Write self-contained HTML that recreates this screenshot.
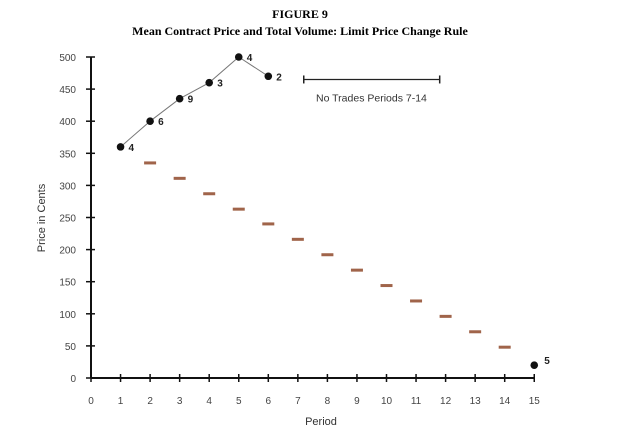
<!DOCTYPE html>
<html><head><meta charset="utf-8"><style>body{margin:0;background:#fff}text{font-family:"Liberation Sans",sans-serif}</style></head>
<body>
<svg id="c" width="620" height="433" xmlns="http://www.w3.org/2000/svg">
<text x="300" y="18" text-anchor="middle" font-family="Liberation Serif" font-weight="bold" font-size="12" style="font-family:'Liberation Serif',serif">FIGURE 9</text>
<text x="300" y="35" text-anchor="middle" font-weight="bold" font-size="12" style="font-family:'Liberation Serif',serif">Mean Contract Price and Total Volume: Limit Price Change Rule</text>
<text transform="translate(45,218) rotate(-90)" text-anchor="middle" font-size="11" fill="#333">Price in Cents</text>
<text x="321" y="425" text-anchor="middle" font-size="11" fill="#333">Period</text>
<g id="g"></g>
</svg>
<script>
const xTicks=[0,1,2,3,4,5,6,7,8,9,10,11,12,13,14,15];
const yTicks=[0,50,100,150,200,250,300,350,400,450,500];
const tradePeriods=[1,2,3,4,5,6];
const tradePrices=[360,400,435,460,500,470];
const tradeVolumes=[4,6,9,3,4,2];
const lastPeriod=[15];const lastPrice=[20];const lastVolume=[5];
const limitPeriods=[2,3,4,5,6,7,8,9,10,11,12,13,14];
const limitPrices=[335,311,287,263,240,216,192,168,144,120,96,72,48];
const noTradeRange=[7.2,11.8];const noTradeLevel=[465];
const X=v=>91+v*29.55, Y=v=>378-v*0.642;
const g=document.getElementById('g'),NS='http://www.w3.org/2000/svg';
function mk(t,a,name,txt){const e=document.createElementNS(NS,t);for(const k in a)e.setAttribute(k,a[k]);


if(txt!==undefined)e.textContent=txt;g.appendChild(e);return e;}
mk('line',{x1:X(0),y1:Y(0),x2:X(15),y2:Y(0),stroke:'#111','stroke-width':2},'x-axis');
mk('line',{x1:X(0),y1:Y(0),x2:X(0),y2:Y(500),stroke:'#111','stroke-width':2},'y-axis');
xTicks.forEach(v=>{mk('line',{x1:X(v),y1:Y(0)-4,x2:X(v),y2:Y(0)+4,stroke:'#111','stroke-width':1.5},'x-tick');
mk('text',{x:X(v),y:404,'text-anchor':'middle','font-size':10,fill:'#444'},'x-tick-label',v);});
yTicks.forEach(v=>{mk('line',{x1:X(0)-5,y1:Y(v),x2:X(0)+4,y2:Y(v),stroke:'#111','stroke-width':1.5},'y-tick');
mk('text',{x:76,y:Y(v)+4,'text-anchor':'end','font-size':10,fill:'#444'},'y-tick-label',v);});
mk('polyline',{points:tradePeriods.map((p,i)=>X(p)+','+Y(tradePrices[i])).join(' '),fill:'none',stroke:'#777','stroke-width':1},'price-line');
tradePeriods.forEach((p,i)=>{mk('circle',{cx:X(p),cy:Y(tradePrices[i]),r:3.8,fill:'#111'},'price-point');
mk('text',{x:X(p)+8,y:Y(tradePrices[i])+4,'font-size':10,'font-weight':'bold',fill:'#222'},'volume-label',tradeVolumes[i]);});
lastPeriod.forEach((p,i)=>{mk('circle',{cx:X(p),cy:Y(lastPrice[i]),r:3.8,fill:'#111'},'price-point');
mk('text',{x:X(p)+10,y:Y(lastPrice[i])-1,'font-size':10,'font-weight':'bold',fill:'#222'},'volume-label',lastVolume[i]);});
limitPeriods.forEach((p,i)=>mk('rect',{x:X(p)-6,y:Y(limitPrices[i])-1.5,width:12,height:3,fill:'#a0644a'},'limit-price-dash'));
const a=X(noTradeRange[0]),b=X(noTradeRange[1]),y=Y(noTradeLevel[0]);
mk('line',{x1:a,y1:y,x2:b,y2:y,stroke:'#222','stroke-width':1.2},'no-trade-bracket');
mk('line',{x1:a,y1:y-4,x2:a,y2:y+4,stroke:'#222','stroke-width':1.5},'no-trade-bracket-start');
mk('line',{x1:b,y1:y-4,x2:b,y2:y+4,stroke:'#222','stroke-width':1.5},'no-trade-bracket-end');
mk('text',{x:316,y:y+22,'font-size':10.5,fill:'#333'},'no-trade-label','No Trades Periods 7-14');
</script>
</body></html>
